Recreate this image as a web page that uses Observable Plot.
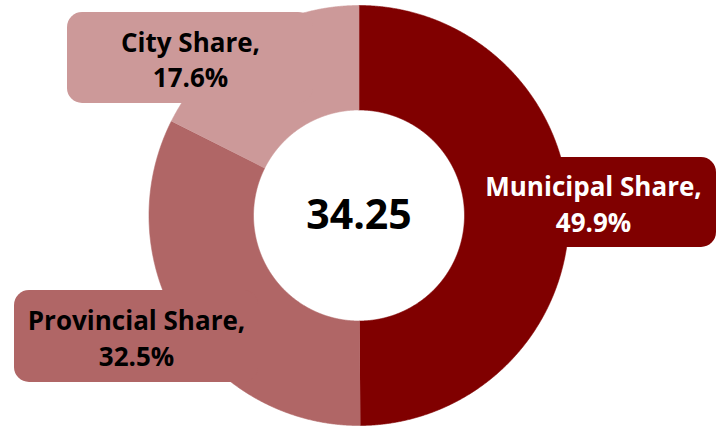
<!DOCTYPE html>
<html>
<head>
<meta charset="utf-8">
<script src="https://cdn.jsdelivr.net/npm/d3@7"></script>
<script src="https://cdn.jsdelivr.net/npm/@observablehq/plot@0.6"></script>
<style>
  html, body { margin: 0; padding: 0; background: #fff; }
  #chart { width: 723px; height: 428px; }
</style>
</head>
<body>
<div id="chart"></div>
<script>
// ---- data ----
const names = ["Municipal Share", "Provincial Share", "City Share"];
const shares = [49.9, 32.5, 17.6];
const centerValue = [34.25];

// ---- styles / layout ----
const colors = ["#800000", "#B06666", "#CC9999"];
const textColors = ["#ffffff", "#000000", "#000000"];
const W = 723, H = 428;
const CX = 358.5, CY = 215, R = 210;      // pixel centre & outer radius
const INNER = 105.5 / R;                    // inner radius (units)
const FONT = "'Open Sans', sans-serif";
// label boxes in pixels [x1, x2, y1, y2]
const boxLayout = {
  "Municipal Share": [470, 716, 157, 247],
  "Provincial Share": [14, 258, 290, 382],
  "City Share": [67, 313, 12, 103]
};

const px2x = p => (p - CX) / R;
const px2y = p => (CY - p) / R;

const total = d3.sum(shares);
let acc = 0;
const slices = names.map((name, i) => {
  const a0 = acc / total * 2 * Math.PI;
  acc += shares[i];
  const a1 = acc / total * 2 * Math.PI;
  return {name, share: shares[i], a0, a1, i};
});

// polygon points of each ring segment
const pts = [];
for (const s of slices) {
  const n = Math.max(2, Math.ceil((s.a1 - s.a0) / (Math.PI / 720)));
  for (let k = 0; k <= n; k++) {
    const a = s.a0 + (s.a1 - s.a0) * k / n;
    pts.push({name: s.name, x: Math.sin(a), y: Math.cos(a)});
  }
  for (let k = n; k >= 0; k--) {
    const a = s.a0 + (s.a1 - s.a0) * k / n;
    pts.push({name: s.name, x: INNER * Math.sin(a), y: INNER * Math.cos(a)});
  }
}

const boxes = slices.map(s => {
  const b = boxLayout[s.name];
  return {
    name: s.name,
    x1: px2x(b[0]), x2: px2x(b[1]), y1: px2y(b[2]), y2: px2y(b[3]),
    cx: px2x((b[0] + b[1]) / 2), cy: px2y((b[2] + b[3]) / 2),
    label: `${s.name},\n${s.share.toFixed(1)}%`,
    tc: textColors[s.i]
  };
});

const chart = Plot.plot({
  width: W, height: H,
  margin: 0,
  x: {domain: [px2x(0), px2x(W)], axis: null},
  y: {domain: [px2y(H), px2y(0)], axis: null},
  color: {domain: names, range: colors},
  style: {background: "#fff", fontFamily: FONT},
  marks: [
    Plot.line(pts, {x: "x", y: "y", z: "name", fill: "name", stroke: "name", strokeWidth: 0.6, curve: "linear"}),
    Plot.rect(boxes, {x1: "x1", x2: "x2", y1: "y1", y2: "y2", fill: "name", rx: 15}),
    Plot.text(boxes.filter(d => d.tc === "#ffffff"), {x: "cx", y: "cy", text: "label", fill: "#ffffff",
      fontSize: 26, fontWeight: 700, lineHeight: 1.37, textAnchor: "middle", lineAnchor: "middle", fontFamily: FONT}),
    Plot.text(boxes.filter(d => d.tc !== "#ffffff"), {x: "cx", y: "cy", text: "label", fill: "#000000",
      fontSize: 26, fontWeight: 700, lineHeight: 1.37, textAnchor: "middle", lineAnchor: "middle", fontFamily: FONT}),
    Plot.text(centerValue, {x: () => 0, y: () => 0, text: d => d.toFixed(2), fill: "#000",
      fontSize: 41, fontWeight: 700, textAnchor: "middle", lineAnchor: "middle", fontFamily: FONT})
  ]
});
document.getElementById("chart").appendChild(chart);
</script>
</body>
</html>
